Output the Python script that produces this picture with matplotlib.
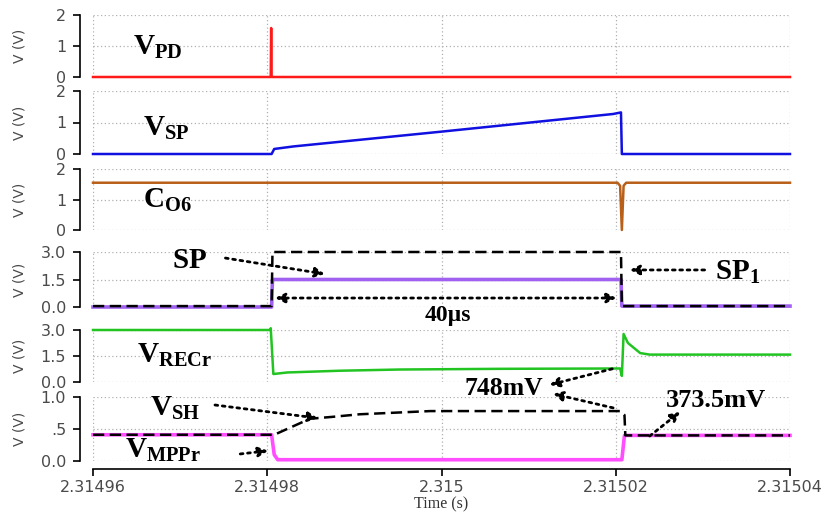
import matplotlib
matplotlib.use("Agg")
import matplotlib.pyplot as plt

plt.rcParams['mathtext.fontset'] = 'custom'
plt.rcParams['mathtext.rm'] = 'Liberation Serif'
plt.rcParams['mathtext.bf'] = 'Liberation Serif:bold'

# time axis
x_ticks = [2.31496, 2.31498, 2.315, 2.31502, 2.31504]
x_labels = ['2.31496', '2.31498', '2.315', '2.31502', '2.31504']

# V_PD
t_pd = [2.31496, 2.3149804, 2.31498045, 2.3149805, 2.31504]
v_pd = [0, 0, 1.58, 0, 0]

# V_SP
t_sp = [2.31496, 2.3149805, 2.3149808, 2.314983, 2.315, 2.3150197, 2.3150206, 2.3150207, 2.31504]
v_sp = [0, 0, 0.16, 0.24, 0.71, 1.27, 1.32, 0, 0]

# C_O6
t_co = [2.31496, 2.3150202, 2.3150205, 2.3150207, 2.3150209, 2.3150212, 2.31504]
v_co = [1.55, 1.55, 1.45, 0.0, 1.45, 1.55, 1.55]

# SP / SP1
t_spp = [2.31496, 2.3149805, 2.3149806, 2.3150206, 2.3150207, 2.31504]
v_sp_dash = [0.05, 0.05, 3.0, 3.0, 0.05, 0.05]
v_sp_purple = [0, 0, 1.5, 1.5, 0.05, 0.05]

# V_RECr
t_rec = [2.31496, 2.3149803, 2.3149804, 2.3149807, 2.3149823, 2.3149883, 2.3149952, 2.3150067,
         2.3150205, 2.3150207, 2.3150209, 2.3150214, 2.3150228, 2.3150239, 2.31504]
v_rec = [3.0, 3.0, 3.1, 0.46, 0.55, 0.65, 0.72, 0.76, 0.78, 0.35, 2.77, 2.25, 1.67, 1.58, 1.58]

# V_SH (dashed) and V_MPPr
t_sh = [2.31496, 2.3149808, 2.3149849, 2.3149875, 2.3149906, 2.3149987, 2.3150205, 2.315021, 2.3150211, 2.31504]
v_sh = [0.41, 0.41, 0.66, 0.69, 0.73, 0.78, 0.78, 0.72, 0.40, 0.40]
t_mp = [2.31496, 2.3149805, 2.3149808, 2.3149812, 2.3150207, 2.315021, 2.31504]
v_mp = [0.41, 0.41, 0.1, 0.02, 0.02, 0.40, 0.40]

W, H = 825, 521
fig = plt.figure(figsize=(W / 100, H / 100), dpi=100)

# (top px, bottom px, ymax, yticks, yticklabels)
panels = [
    (15, 77, 2, [0, 1, 2], ['0', '1', '2']),
    (91, 154, 2, [0, 1, 2], ['0', '1', '2']),
    (169, 230, 2, [0, 1, 2], ['0', '1', '2']),
    (252, 307, 3, [0, 1.5, 3], ['0.0', '1.5', '3.0']),
    (330, 382, 3, [0, 1.5, 3], ['0.0', '1.5', '3.0']),
    (397, 461, 1, [0, 0.5, 1], ['0.0', '.5', '1.0']),
]
tc = '#4a4a4a'
axes = []
for i, (top, bot, ymax, yt, yl) in enumerate(panels):
    ax = fig.add_axes([93 / W, 1 - bot / H, 697 / W, (bot - top) / H])
    ax.set_xlim(x_ticks[0], x_ticks[-1])
    ax.set_ylim(0, ymax)
    ax.set_xticks(x_ticks)
    ax.set_yticks(yt)
    ax.set_yticklabels(yl)
    ax.grid(True, color='#b0b0b0', linestyle=(0, (1, 2)), linewidth=0.9)
    for s in ['top', 'right']:
        ax.spines[s].set_visible(False)
    ax.spines['left'].set_position(('outward', 9.4))
    ax.spines['left'].set_bounds(0, ymax)
    ax.spines['left'].set_linewidth(1.2)
    ax.tick_params(axis='y', length=5, width=1.2, pad=5, labelsize=11.5, labelcolor=tc)
    ax.set_ylabel('V (V)', fontsize=10, color=tc)
    ax.yaxis.set_label_coords(-0.096, 0.5)
    if i < 5:
        ax.spines['bottom'].set_visible(False)
        ax.tick_params(axis='x', length=0, labelbottom=False)
    else:
        ax.spines['bottom'].set_position(('outward', 5.8))
        ax.spines['bottom'].set_linewidth(1.2)
        ax.set_xticklabels(x_labels)
        ax.tick_params(axis='x', length=5, width=1.2, pad=3, labelsize=11.5, labelcolor=tc)
        ax.set_xlabel('Time (s)', family='Liberation Serif', fontsize=11.5, color='#333333', labelpad=1)
    ax.patch.set_alpha(0)
    axes.append(ax)

dash = (0, (4.5, 2.2))
a1, a2, a3, a4, a5, a6 = axes
a1.plot(t_pd, v_pd, color='#ff1a1a', lw=1.8, clip_on=False)
a2.plot(t_sp, v_sp, color='#1010e0', lw=1.8, clip_on=False)
a3.plot(t_co, v_co, color='#b8601a', lw=1.8, clip_on=False)
a4.plot(t_spp, v_sp_purple, color='#a060f0', lw=2.6, clip_on=False)
a4.plot(t_spp, v_sp_dash, color='black', lw=1.8, ls=dash, clip_on=False)
a5.plot(t_rec, v_rec, color='#22c422', lw=1.8, clip_on=False)
a6.plot(t_mp, v_mp, color='#ff4dff', lw=2.6, clip_on=False)
a6.plot(t_sh, v_sh, color='black', lw=1.8, ls=dash, clip_on=False)

lbl = dict(fontsize=21, color='black', va='center', ha='left')
a1.text(2.3149646, 0.97, r'$\mathbf{V_{PD}}$', **lbl)
a2.text(2.3149657, 0.83, r'$\mathbf{V_{SP}}$', **lbl)
a3.text(2.3149657, 0.98, r'$\mathbf{C_{O6}}$', **lbl)
a5.text(2.3149651, 1.56, r'$\mathbf{V_{RECr}}$', **lbl)
a6.text(2.3149665, 0.83, r'$\mathbf{V_{SH}}$', **lbl)
a6.text(2.3149637, 0.17, r'$\mathbf{V_{MPPr}}$', **lbl)
a4.text(2.3149711, 2.56, r'$\mathbf{SP}$', fontsize=21, ha='center', va='center')
a4.text(2.3150314, 1.9, r'$\mathbf{SP_1}$', fontsize=21, ha='left', va='center')
a4.text(2.3150007, -0.44, '40µs', family='Liberation Serif', weight='bold', fontsize=17,
        ha='center', va='center')
a6.text(2.3150071, 1.14, '748mV', family='Liberation Serif', weight='bold', fontsize=18.5,
        ha='center', va='center')
a6.text(2.3150257, 0.95, '373.5mV', family='Liberation Serif', weight='bold', fontsize=19,
        ha='left', va='center')

arr = dict(arrowstyle='-|>', color='black', lw=2, ls=':', mutation_scale=14,
           shrinkA=0, shrinkB=0)
a4.annotate('', xy=(2.3149866, 1.8), xytext=(2.3149752, 2.67), arrowprops=arr, annotation_clip=False)
a4.annotate('', xy=(2.3150216, 2.02), xytext=(2.3150302, 2.02), arrowprops=arr, annotation_clip=False)
arr2 = dict(arr, arrowstyle='<|-|>')
a4.annotate('', xy=(2.3150201, 0.49), xytext=(2.3149809, 0.49), arrowprops=arr2, annotation_clip=False)
a6.annotate('', xy=(2.3149858, 0.67), xytext=(2.314974, 0.875), arrowprops=arr, annotation_clip=False)
a6.annotate('', xy=(2.3149801, 0.16), xytext=(2.3149769, 0.11), arrowprops=arr, annotation_clip=False)
a6.annotate('', xy=(2.3150124, 1.19), xytext=(2.3150196, 1.44), arrowprops=arr, annotation_clip=False)
a6.annotate('', xy=(2.3150128, 1.05), xytext=(2.3150197, 0.83), arrowprops=arr, annotation_clip=False)
a6.annotate('', xy=(2.3150274, 0.77), xytext=(2.3150239, 0.39), arrowprops=arr, annotation_clip=False)

fig.savefig('out.png', dpi=100)
